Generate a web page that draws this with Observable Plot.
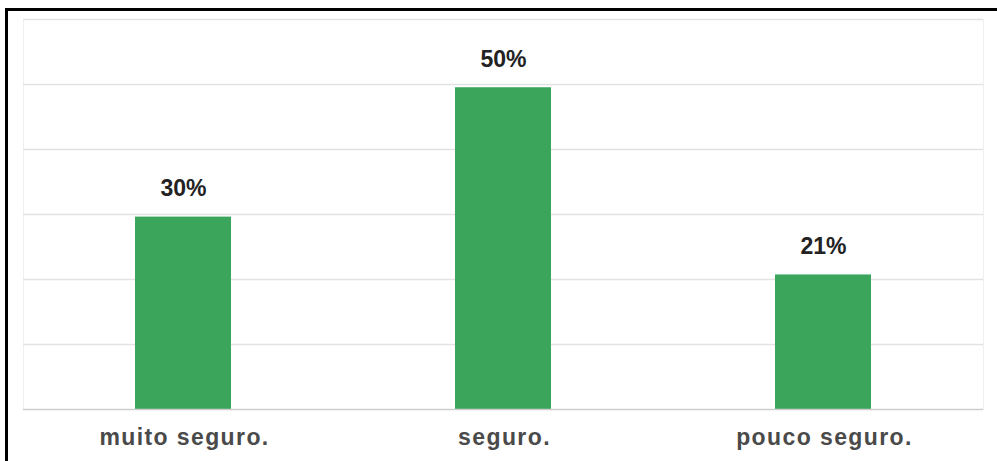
<!DOCTYPE html>
<html>
<head>
<meta charset="utf-8">
<script src="https://cdn.jsdelivr.net/npm/d3@7"></script>
<script src="https://cdn.jsdelivr.net/npm/@observablehq/plot@0.6"></script>
<style>
  html, body { margin: 0; padding: 0; background: #fff; }
  #wrap { position: relative; width: 997px; height: 461px; overflow: hidden; }
  #border { position: absolute; left: 5px; top: 8px; right: -20px; bottom: -20px;
            border-left: 3px solid #000; border-top: 3px solid #000; pointer-events: none; }
</style>
</head>
<body>
<div id="wrap"><div id="border"></div></div>
<script>
const categories = ["muito seguro.", "seguro.", "pouco seguro."];
const values = [29.6, 49.5, 20.7];
const valueLabels = ["30%", "50%", "21%"];
const yTicks = [10, 20, 30, 40, 50, 60];

const data = categories.map((c, i) => ({category: c, value: values[i], label: valueLabels[i]}));

const chart = Plot.plot({
  width: 997,
  height: 461,
  marginTop: 19,
  marginBottom: 52,
  marginLeft: 23,
  marginRight: 14,
  style: {fontFamily: "'Liberation Sans', Arial, sans-serif", background: "transparent"},
  x: {domain: categories, paddingInner: 0.7, paddingOuter: 0.35, axis: null},
  y: {domain: [0, 60], axis: null},
  marks: [
    Plot.frame({stroke: "#f0f0f0"}),
    Plot.ruleY(yTicks, {stroke: "#e2e2e2", strokeWidth: 1.5}),
    Plot.barY(data, {x: "category", y: "value", fill: "#3ba55c"}),
    Plot.ruleY([0], {stroke: "#cdcdcd", strokeWidth: 1.5}),
    Plot.text(data, {x: "category", y: "value", text: "label", dy: -21, lineAnchor: "bottom",
      fontSize: 23, fontWeight: "bold", fill: "#222"}),
    Plot.text(data, {x: "category", y: () => 0, text: "category", dy: 35, dx: 1, lineAnchor: "bottom",
      fontSize: 23, fontWeight: "bold", fill: "#4a4a4a"})
  ]
});
const texts = chart.querySelectorAll("g[aria-label='text']");
if (texts.length) texts[texts.length - 1].setAttribute("letter-spacing", "1.4");
document.getElementById("wrap").prepend(chart);
</script>
</body>
</html>
